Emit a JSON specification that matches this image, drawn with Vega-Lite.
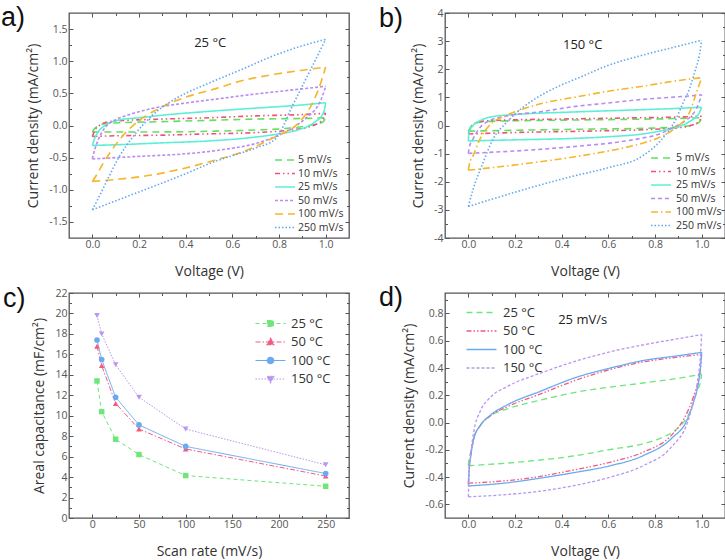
{
"$schema": "https://vega.github.io/schema/vega-lite/v6.json",
"padding": {"left": 0, "top": 2, "right": 0, "bottom": 0},
"config": {
  "font": "Open Sans",
  "view": {"stroke": "#555", "strokeWidth": 1.3},
  "axis": {"grid": false, "domain": false, "ticks": true, "tickSize": -4, "tickColor": "#555", "tickWidth": 1, "labelPadding": 5, "labelFontSize": 10.5, "labelColor": "#555", "labelFont": "Open Sans", "titleFont": "Open Sans", "titleFontSize": 14, "titleFontWeight": "normal", "titleColor": "#333"},
  "axisX": {"titlePadding": 15},
  "axisY": {"titlePadding": 8, "labelPadding": 6},
  "legend": {"padding": 0, "labelFont": "Open Sans", "labelColor": "#333"},
  "title": {"font": "Liberation Sans", "fontSize": 27, "fontWeight": "normal", "anchor": "start", "frame": "group", "baseline": "top", "color": "#111"}
},
"datasets": {
"a": [
{"s":"5 mV/s","b":"u","v":0,"j":-0.1},{"s":"5 mV/s","b":"u","v":0.01,"j":-0.05},{"s":"5 mV/s","b":"u","v":0.03,"j":0},{"s":"5 mV/s","b":"u","v":0.06,"j":0.03},{"s":"5 mV/s","b":"u","v":0.1,"j":0.04},{"s":"5 mV/s","b":"u","v":0.3,"j":0.06},{"s":"5 mV/s","b":"u","v":0.5,"j":0.08},{"s":"5 mV/s","b":"u","v":0.7,"j":0.1},{"s":"5 mV/s","b":"u","v":0.9,"j":0.11},{"s":"5 mV/s","b":"u","v":1,"j":0.12},
{"s":"5 mV/s","b":"l","v":1,"j":0.12},{"s":"5 mV/s","b":"l","v":0.99,"j":0.06},{"s":"5 mV/s","b":"l","v":0.97,"j":0.03},{"s":"5 mV/s","b":"l","v":0.93,"j":0},{"s":"5 mV/s","b":"l","v":0.85,"j":-0.04},{"s":"5 mV/s","b":"l","v":0.7,"j":-0.07},{"s":"5 mV/s","b":"l","v":0.5,"j":-0.09},{"s":"5 mV/s","b":"l","v":0.3,"j":-0.1},{"s":"5 mV/s","b":"l","v":0.1,"j":-0.1},{"s":"5 mV/s","b":"l","v":0,"j":-0.1},
{"s":"10 mV/s","b":"u","v":0,"j":-0.17},{"s":"10 mV/s","b":"u","v":0.01,"j":-0.08},{"s":"10 mV/s","b":"u","v":0.03,"j":0},{"s":"10 mV/s","b":"u","v":0.06,"j":0.05},{"s":"10 mV/s","b":"u","v":0.1,"j":0.07},{"s":"10 mV/s","b":"u","v":0.3,"j":0.1},{"s":"10 mV/s","b":"u","v":0.5,"j":0.12},{"s":"10 mV/s","b":"u","v":0.7,"j":0.15},{"s":"10 mV/s","b":"u","v":0.9,"j":0.17},{"s":"10 mV/s","b":"u","v":1,"j":0.19},
{"s":"10 mV/s","b":"l","v":1,"j":0.19},{"s":"10 mV/s","b":"l","v":0.99,"j":0.1},{"s":"10 mV/s","b":"l","v":0.97,"j":0.04},{"s":"10 mV/s","b":"l","v":0.93,"j":-0.02},{"s":"10 mV/s","b":"l","v":0.85,"j":-0.07},{"s":"10 mV/s","b":"l","v":0.7,"j":-0.11},{"s":"10 mV/s","b":"l","v":0.5,"j":-0.13},{"s":"10 mV/s","b":"l","v":0.3,"j":-0.15},{"s":"10 mV/s","b":"l","v":0.1,"j":-0.16},{"s":"10 mV/s","b":"l","v":0,"j":-0.17},
{"s":"25 mV/s","b":"u","v":0,"j":-0.31},{"s":"25 mV/s","b":"u","v":0.01,"j":-0.2},{"s":"25 mV/s","b":"u","v":0.025,"j":-0.1},{"s":"25 mV/s","b":"u","v":0.05,"j":-0.01},{"s":"25 mV/s","b":"u","v":0.08,"j":0.05},{"s":"25 mV/s","b":"u","v":0.12,"j":0.09},{"s":"25 mV/s","b":"u","v":0.2,"j":0.12},{"s":"25 mV/s","b":"u","v":0.3,"j":0.16},{"s":"25 mV/s","b":"u","v":0.5,"j":0.22},{"s":"25 mV/s","b":"u","v":0.7,"j":0.27},{"s":"25 mV/s","b":"u","v":0.9,"j":0.32},{"s":"25 mV/s","b":"u","v":1,"j":0.355},
{"s":"25 mV/s","b":"l","v":1,"j":0.355},{"s":"25 mV/s","b":"l","v":0.995,"j":0.25},{"s":"25 mV/s","b":"l","v":0.985,"j":0.16},{"s":"25 mV/s","b":"l","v":0.96,"j":0.07},{"s":"25 mV/s","b":"l","v":0.93,"j":0},{"s":"25 mV/s","b":"l","v":0.88,"j":-0.07},{"s":"25 mV/s","b":"l","v":0.8,"j":-0.13},{"s":"25 mV/s","b":"l","v":0.7,"j":-0.18},{"s":"25 mV/s","b":"l","v":0.5,"j":-0.24},{"s":"25 mV/s","b":"l","v":0.3,"j":-0.27},{"s":"25 mV/s","b":"l","v":0.1,"j":-0.3},{"s":"25 mV/s","b":"l","v":0,"j":-0.31},
{"s":"50 mV/s","b":"u","v":0,"j":-0.52},{"s":"50 mV/s","b":"u","v":0.01,"j":-0.38},{"s":"50 mV/s","b":"u","v":0.028,"j":-0.2},{"s":"50 mV/s","b":"u","v":0.057,"j":-0.02},{"s":"50 mV/s","b":"u","v":0.1,"j":0.09},{"s":"50 mV/s","b":"u","v":0.15,"j":0.16},{"s":"50 mV/s","b":"u","v":0.25,"j":0.26},{"s":"50 mV/s","b":"u","v":0.4,"j":0.35},{"s":"50 mV/s","b":"u","v":0.55,"j":0.42},{"s":"50 mV/s","b":"u","v":0.7,"j":0.49},{"s":"50 mV/s","b":"u","v":0.85,"j":0.55},{"s":"50 mV/s","b":"u","v":1,"j":0.61},
{"s":"50 mV/s","b":"l","v":1,"j":0.61},{"s":"50 mV/s","b":"l","v":0.98,"j":0.4},{"s":"50 mV/s","b":"l","v":0.96,"j":0.27},{"s":"50 mV/s","b":"l","v":0.93,"j":0.16},{"s":"50 mV/s","b":"l","v":0.89,"j":0.04},{"s":"50 mV/s","b":"l","v":0.85,"j":-0.06},{"s":"50 mV/s","b":"l","v":0.78,"j":-0.18},{"s":"50 mV/s","b":"l","v":0.7,"j":-0.28},{"s":"50 mV/s","b":"l","v":0.55,"j":-0.38},{"s":"50 mV/s","b":"l","v":0.4,"j":-0.44},{"s":"50 mV/s","b":"l","v":0.2,"j":-0.48},{"s":"50 mV/s","b":"l","v":0,"j":-0.52},
{"s":"100 mV/s","b":"u","v":0,"j":-0.87},{"s":"100 mV/s","b":"u","v":0.02,"j":-0.76},{"s":"100 mV/s","b":"u","v":0.043,"j":-0.61},{"s":"100 mV/s","b":"u","v":0.078,"j":-0.41},{"s":"100 mV/s","b":"u","v":0.128,"j":-0.17},{"s":"100 mV/s","b":"u","v":0.184,"j":0.03},{"s":"100 mV/s","b":"u","v":0.283,"j":0.26},{"s":"100 mV/s","b":"u","v":0.4,"j":0.44},{"s":"100 mV/s","b":"u","v":0.525,"j":0.57},{"s":"100 mV/s","b":"u","v":0.645,"j":0.7},{"s":"100 mV/s","b":"u","v":0.787,"j":0.8},{"s":"100 mV/s","b":"u","v":0.9,"j":0.86},{"s":"100 mV/s","b":"u","v":1,"j":0.91},
{"s":"100 mV/s","b":"l","v":1,"j":0.91},{"s":"100 mV/s","b":"l","v":0.97,"j":0.57},{"s":"100 mV/s","b":"l","v":0.93,"j":0.26},{"s":"100 mV/s","b":"l","v":0.872,"j":0},{"s":"100 mV/s","b":"l","v":0.787,"j":-0.17},{"s":"100 mV/s","b":"l","v":0.645,"j":-0.41},{"s":"100 mV/s","b":"l","v":0.525,"j":-0.54},{"s":"100 mV/s","b":"l","v":0.4,"j":-0.66},{"s":"100 mV/s","b":"l","v":0.255,"j":-0.77},{"s":"100 mV/s","b":"l","v":0.1,"j":-0.84},{"s":"100 mV/s","b":"l","v":0,"j":-0.87},
{"s":"250 mV/s","b":"u","v":0,"j":-1.31},{"s":"250 mV/s","b":"u","v":0.03,"j":-1.1},{"s":"250 mV/s","b":"u","v":0.057,"j":-0.9},{"s":"250 mV/s","b":"u","v":0.113,"j":-0.5},{"s":"250 mV/s","b":"u","v":0.184,"j":-0.13},{"s":"250 mV/s","b":"u","v":0.255,"j":0.15},{"s":"250 mV/s","b":"u","v":0.33,"j":0.36},{"s":"250 mV/s","b":"u","v":0.4,"j":0.5},{"s":"250 mV/s","b":"u","v":0.5,"j":0.66},{"s":"250 mV/s","b":"u","v":0.645,"j":0.88},{"s":"250 mV/s","b":"u","v":0.787,"j":1.1},{"s":"250 mV/s","b":"u","v":0.9,"j":1.24},{"s":"250 mV/s","b":"u","v":1,"j":1.34},
{"s":"250 mV/s","b":"l","v":1,"j":1.34},{"s":"250 mV/s","b":"l","v":0.93,"j":0.83},{"s":"250 mV/s","b":"l","v":0.858,"j":0.31},{"s":"250 mV/s","b":"l","v":0.787,"j":-0.2},{"s":"250 mV/s","b":"l","v":0.7,"j":-0.35},{"s":"250 mV/s","b":"l","v":0.6,"j":-0.47},{"s":"250 mV/s","b":"l","v":0.525,"j":-0.56},{"s":"250 mV/s","b":"l","v":0.4,"j":-0.75},{"s":"250 mV/s","b":"l","v":0.26,"j":-0.95},{"s":"250 mV/s","b":"l","v":0.13,"j":-1.13},{"s":"250 mV/s","b":"l","v":0,"j":-1.31}
],
"b": [
{"s":"5 mV/s","b":"u","v":0,"j":-0.2},{"s":"5 mV/s","b":"u","v":0.01,"j":-0.05},{"s":"5 mV/s","b":"u","v":0.03,"j":0.08},{"s":"5 mV/s","b":"u","v":0.07,"j":0.14},{"s":"5 mV/s","b":"u","v":0.15,"j":0.16},{"s":"5 mV/s","b":"u","v":0.4,"j":0.19},{"s":"5 mV/s","b":"u","v":0.7,"j":0.22},{"s":"5 mV/s","b":"u","v":0.9,"j":0.25},{"s":"5 mV/s","b":"u","v":1,"j":0.28},
{"s":"5 mV/s","b":"l","v":1,"j":0.28},{"s":"5 mV/s","b":"l","v":0.99,"j":0.12},{"s":"5 mV/s","b":"l","v":0.96,"j":0.02},{"s":"5 mV/s","b":"l","v":0.9,"j":-0.05},{"s":"5 mV/s","b":"l","v":0.75,"j":-0.1},{"s":"5 mV/s","b":"l","v":0.5,"j":-0.13},{"s":"5 mV/s","b":"l","v":0.2,"j":-0.17},{"s":"5 mV/s","b":"l","v":0,"j":-0.2},
{"s":"10 mV/s","b":"u","v":0,"j":-0.3},{"s":"10 mV/s","b":"u","v":0.01,"j":-0.1},{"s":"10 mV/s","b":"u","v":0.03,"j":0.08},{"s":"10 mV/s","b":"u","v":0.07,"j":0.16},{"s":"10 mV/s","b":"u","v":0.15,"j":0.19},{"s":"10 mV/s","b":"u","v":0.4,"j":0.23},{"s":"10 mV/s","b":"u","v":0.7,"j":0.27},{"s":"10 mV/s","b":"u","v":0.9,"j":0.3},{"s":"10 mV/s","b":"u","v":1,"j":0.33},
{"s":"10 mV/s","b":"l","v":1,"j":0.33},{"s":"10 mV/s","b":"l","v":0.99,"j":0.15},{"s":"10 mV/s","b":"l","v":0.96,"j":0.02},{"s":"10 mV/s","b":"l","v":0.9,"j":-0.08},{"s":"10 mV/s","b":"l","v":0.75,"j":-0.15},{"s":"10 mV/s","b":"l","v":0.5,"j":-0.2},{"s":"10 mV/s","b":"l","v":0.2,"j":-0.25},{"s":"10 mV/s","b":"l","v":0,"j":-0.3},
{"s":"25 mV/s","b":"u","v":0,"j":-0.55},{"s":"25 mV/s","b":"u","v":0.003,"j":-0.25},{"s":"25 mV/s","b":"u","v":0.02,"j":0},{"s":"25 mV/s","b":"u","v":0.05,"j":0.17},{"s":"25 mV/s","b":"u","v":0.1,"j":0.31},{"s":"25 mV/s","b":"u","v":0.2,"j":0.39},{"s":"25 mV/s","b":"u","v":0.45,"j":0.48},{"s":"25 mV/s","b":"u","v":0.7,"j":0.55},{"s":"25 mV/s","b":"u","v":0.9,"j":0.61},{"s":"25 mV/s","b":"u","v":1,"j":0.65},
{"s":"25 mV/s","b":"l","v":1,"j":0.65},{"s":"25 mV/s","b":"l","v":0.99,"j":0.45},{"s":"25 mV/s","b":"l","v":0.975,"j":0.3},{"s":"25 mV/s","b":"l","v":0.95,"j":0.15},{"s":"25 mV/s","b":"l","v":0.92,"j":0.02},{"s":"25 mV/s","b":"l","v":0.89,"j":-0.07},{"s":"25 mV/s","b":"l","v":0.82,"j":-0.2},{"s":"25 mV/s","b":"l","v":0.747,"j":-0.3},{"s":"25 mV/s","b":"l","v":0.6,"j":-0.4},{"s":"25 mV/s","b":"l","v":0.45,"j":-0.46},{"s":"25 mV/s","b":"l","v":0.2,"j":-0.51},{"s":"25 mV/s","b":"l","v":0,"j":-0.55},
{"s":"50 mV/s","b":"u","v":0,"j":-0.99},{"s":"50 mV/s","b":"u","v":0.005,"j":-0.75},{"s":"50 mV/s","b":"u","v":0.02,"j":-0.48},{"s":"50 mV/s","b":"u","v":0.05,"j":-0.07},{"s":"50 mV/s","b":"u","v":0.09,"j":0.17},{"s":"50 mV/s","b":"u","v":0.16,"j":0.33},{"s":"50 mV/s","b":"u","v":0.31,"j":0.49},{"s":"50 mV/s","b":"u","v":0.46,"j":0.68},{"s":"50 mV/s","b":"u","v":0.6,"j":0.8},{"s":"50 mV/s","b":"u","v":0.75,"j":0.93},{"s":"50 mV/s","b":"u","v":0.9,"j":1.02},{"s":"50 mV/s","b":"u","v":1,"j":1.09},
{"s":"50 mV/s","b":"l","v":1,"j":1.09},{"s":"50 mV/s","b":"l","v":0.977,"j":0.59},{"s":"50 mV/s","b":"l","v":0.95,"j":0.3},{"s":"50 mV/s","b":"l","v":0.92,"j":0.11},{"s":"50 mV/s","b":"l","v":0.87,"j":-0.1},{"s":"50 mV/s","b":"l","v":0.82,"j":-0.3},{"s":"50 mV/s","b":"l","v":0.75,"j":-0.44},{"s":"50 mV/s","b":"l","v":0.675,"j":-0.55},{"s":"50 mV/s","b":"l","v":0.45,"j":-0.75},{"s":"50 mV/s","b":"l","v":0.25,"j":-0.88},{"s":"50 mV/s","b":"l","v":0,"j":-0.99},
{"s":"100 mV/s","b":"u","v":0,"j":-1.59},{"s":"100 mV/s","b":"u","v":0.005,"j":-1.35},{"s":"100 mV/s","b":"u","v":0.02,"j":-1.08},{"s":"100 mV/s","b":"u","v":0.05,"j":-0.48},{"s":"100 mV/s","b":"u","v":0.09,"j":0},{"s":"100 mV/s","b":"u","v":0.16,"j":0.35},{"s":"100 mV/s","b":"u","v":0.235,"j":0.59},{"s":"100 mV/s","b":"u","v":0.35,"j":0.85},{"s":"100 mV/s","b":"u","v":0.46,"j":1.01},{"s":"100 mV/s","b":"u","v":0.6,"j":1.22},{"s":"100 mV/s","b":"u","v":0.75,"j":1.4},{"s":"100 mV/s","b":"u","v":0.9,"j":1.6},{"s":"100 mV/s","b":"u","v":1,"j":1.7},
{"s":"100 mV/s","b":"l","v":1,"j":1.7},{"s":"100 mV/s","b":"l","v":0.975,"j":1.1},{"s":"100 mV/s","b":"l","v":0.948,"j":0.47},{"s":"100 mV/s","b":"l","v":0.89,"j":-0.07},{"s":"100 mV/s","b":"l","v":0.82,"j":-0.42},{"s":"100 mV/s","b":"l","v":0.75,"j":-0.62},{"s":"100 mV/s","b":"l","v":0.675,"j":-0.78},{"s":"100 mV/s","b":"l","v":0.55,"j":-0.98},{"s":"100 mV/s","b":"l","v":0.45,"j":-1.12},{"s":"100 mV/s","b":"l","v":0.25,"j":-1.35},{"s":"100 mV/s","b":"l","v":0,"j":-1.59},
{"s":"250 mV/s","b":"u","v":0,"j":-2.88},{"s":"250 mV/s","b":"u","v":0.02,"j":-2.28},{"s":"250 mV/s","b":"u","v":0.063,"j":-1.32},{"s":"250 mV/s","b":"u","v":0.106,"j":-0.48},{"s":"250 mV/s","b":"u","v":0.164,"j":0.11},{"s":"250 mV/s","b":"u","v":0.235,"j":0.65},{"s":"250 mV/s","b":"u","v":0.31,"j":1.07},{"s":"250 mV/s","b":"u","v":0.38,"j":1.37},{"s":"250 mV/s","b":"u","v":0.48,"j":1.72},{"s":"250 mV/s","b":"u","v":0.6,"j":2.14},{"s":"250 mV/s","b":"u","v":0.747,"j":2.5},{"s":"250 mV/s","b":"u","v":0.89,"j":2.8},{"s":"250 mV/s","b":"u","v":1,"j":3.03},
{"s":"250 mV/s","b":"l","v":1,"j":3.03},{"s":"250 mV/s","b":"l","v":0.99,"j":2.5},{"s":"250 mV/s","b":"l","v":0.97,"j":1.9},{"s":"250 mV/s","b":"l","v":0.948,"j":1.31},{"s":"250 mV/s","b":"l","v":0.92,"j":0.8},{"s":"250 mV/s","b":"l","v":0.89,"j":0.23},{"s":"250 mV/s","b":"l","v":0.83,"j":-0.48},{"s":"250 mV/s","b":"l","v":0.747,"j":-1.08},{"s":"250 mV/s","b":"l","v":0.6,"j":-1.5},{"s":"250 mV/s","b":"l","v":0.45,"j":-1.8},{"s":"250 mV/s","b":"l","v":0.25,"j":-2.25},{"s":"250 mV/s","b":"l","v":0,"j":-2.88}
],
"c": [
{"s":"25 °C","r":5,"c":13.4},{"s":"25 °C","r":10,"c":10.4},{"s":"25 °C","r":25,"c":7.7},{"s":"25 °C","r":50,"c":6.2},{"s":"25 °C","r":100,"c":4.15},{"s":"25 °C","r":250,"c":3.1},
{"s":"50 °C","r":5,"c":16.8},{"s":"50 °C","r":10,"c":14.9},{"s":"50 °C","r":25,"c":11.2},{"s":"50 °C","r":50,"c":8.7},{"s":"50 °C","r":100,"c":6.75},{"s":"50 °C","r":250,"c":4.1},
{"s":"100 °C","r":5,"c":17.4},{"s":"100 °C","r":10,"c":15.5},{"s":"100 °C","r":25,"c":11.8},{"s":"100 °C","r":50,"c":9.1},{"s":"100 °C","r":100,"c":7.0},{"s":"100 °C","r":250,"c":4.35},
{"s":"150 °C","r":5,"c":19.8},{"s":"150 °C","r":10,"c":18.0},{"s":"150 °C","r":25,"c":15.0},{"s":"150 °C","r":50,"c":11.8},{"s":"150 °C","r":100,"c":8.7},{"s":"150 °C","r":250,"c":5.2}
],
"d": [
{"s":"25 °C","b":"u","v":0,"j":-0.316},{"s":"25 °C","b":"u","v":0.003,"j":-0.26},{"s":"25 °C","b":"u","v":0.01,"j":-0.22},{"s":"25 °C","b":"u","v":0.023,"j":-0.12},{"s":"25 °C","b":"u","v":0.052,"j":-0.02},{"s":"25 °C","b":"u","v":0.095,"j":0.05},{"s":"25 °C","b":"u","v":0.167,"j":0.1},{"s":"25 °C","b":"u","v":0.31,"j":0.165},{"s":"25 °C","b":"u","v":0.47,"j":0.225},{"s":"25 °C","b":"u","v":0.75,"j":0.29},{"s":"25 °C","b":"u","v":0.9,"j":0.325},{"s":"25 °C","b":"u","v":1,"j":0.355},
{"s":"25 °C","b":"l","v":1,"j":0.355},{"s":"25 °C","b":"l","v":0.995,"j":0.3},{"s":"25 °C","b":"l","v":0.98,"j":0.23},{"s":"25 °C","b":"l","v":0.95,"j":0.08},{"s":"25 °C","b":"l","v":0.895,"j":-0.044},{"s":"25 °C","b":"l","v":0.83,"j":-0.11},{"s":"25 °C","b":"l","v":0.75,"j":-0.155},{"s":"25 °C","b":"l","v":0.6,"j":-0.2},{"s":"25 °C","b":"l","v":0.47,"j":-0.24},{"s":"25 °C","b":"l","v":0.25,"j":-0.285},{"s":"25 °C","b":"l","v":0,"j":-0.316},
{"s":"50 °C","b":"u","v":0,"j":-0.445},{"s":"50 °C","b":"u","v":0.003,"j":-0.35},{"s":"50 °C","b":"u","v":0.01,"j":-0.25},{"s":"50 °C","b":"u","v":0.023,"j":-0.12},{"s":"50 °C","b":"u","v":0.052,"j":-0.02},{"s":"50 °C","b":"u","v":0.095,"j":0.05},{"s":"50 °C","b":"u","v":0.167,"j":0.116},{"s":"50 °C","b":"u","v":0.31,"j":0.21},{"s":"50 °C","b":"u","v":0.46,"j":0.31},{"s":"50 °C","b":"u","v":0.61,"j":0.39},{"s":"50 °C","b":"u","v":0.75,"j":0.445},{"s":"50 °C","b":"u","v":0.9,"j":0.48},{"s":"50 °C","b":"u","v":1,"j":0.5},
{"s":"50 °C","b":"l","v":1,"j":0.5},{"s":"50 °C","b":"l","v":0.995,"j":0.4},{"s":"50 °C","b":"l","v":0.985,"j":0.3},{"s":"50 °C","b":"l","v":0.967,"j":0.2},{"s":"50 °C","b":"l","v":0.945,"j":0.1},{"s":"50 °C","b":"l","v":0.925,"j":0.03},{"s":"50 °C","b":"l","v":0.87,"j":-0.094},{"s":"50 °C","b":"l","v":0.75,"j":-0.217},{"s":"50 °C","b":"l","v":0.61,"j":-0.29},{"s":"50 °C","b":"l","v":0.46,"j":-0.345},{"s":"50 °C","b":"l","v":0.25,"j":-0.41},{"s":"50 °C","b":"l","v":0.1,"j":-0.435},{"s":"50 °C","b":"l","v":0,"j":-0.445},
{"s":"100 °C","b":"u","v":0,"j":-0.465},{"s":"100 °C","b":"u","v":0.003,"j":-0.36},{"s":"100 °C","b":"u","v":0.01,"j":-0.25},{"s":"100 °C","b":"u","v":0.023,"j":-0.12},{"s":"100 °C","b":"u","v":0.052,"j":-0.02},{"s":"100 °C","b":"u","v":0.095,"j":0.055},{"s":"100 °C","b":"u","v":0.167,"j":0.13},{"s":"100 °C","b":"u","v":0.31,"j":0.23},{"s":"100 °C","b":"u","v":0.46,"j":0.33},{"s":"100 °C","b":"u","v":0.61,"j":0.4},{"s":"100 °C","b":"u","v":0.75,"j":0.455},{"s":"100 °C","b":"u","v":0.9,"j":0.49},{"s":"100 °C","b":"u","v":1,"j":0.515},
{"s":"100 °C","b":"l","v":1,"j":0.515},{"s":"100 °C","b":"l","v":0.995,"j":0.4},{"s":"100 °C","b":"l","v":0.985,"j":0.28},{"s":"100 °C","b":"l","v":0.965,"j":0.15},{"s":"100 °C","b":"l","v":0.94,"j":0.03},{"s":"100 °C","b":"l","v":0.87,"j":-0.118},{"s":"100 °C","b":"l","v":0.75,"j":-0.242},{"s":"100 °C","b":"l","v":0.6,"j":-0.32},{"s":"100 °C","b":"l","v":0.46,"j":-0.365},{"s":"100 °C","b":"l","v":0.3,"j":-0.41},{"s":"100 °C","b":"l","v":0.15,"j":-0.445},{"s":"100 °C","b":"l","v":0,"j":-0.465},
{"s":"150 °C","b":"u","v":0,"j":-0.545},{"s":"150 °C","b":"u","v":0.003,"j":-0.4},{"s":"150 °C","b":"u","v":0.01,"j":-0.24},{"s":"150 °C","b":"u","v":0.023,"j":-0.07},{"s":"150 °C","b":"u","v":0.05,"j":0.08},{"s":"150 °C","b":"u","v":0.09,"j":0.178},{"s":"150 °C","b":"u","v":0.167,"j":0.264},{"s":"150 °C","b":"u","v":0.31,"j":0.363},{"s":"150 °C","b":"u","v":0.46,"j":0.45},{"s":"150 °C","b":"u","v":0.61,"j":0.52},{"s":"150 °C","b":"u","v":0.75,"j":0.57},{"s":"150 °C","b":"u","v":0.9,"j":0.615},{"s":"150 °C","b":"u","v":1,"j":0.645},
{"s":"150 °C","b":"l","v":1,"j":0.645},{"s":"150 °C","b":"l","v":0.995,"j":0.5},{"s":"150 °C","b":"l","v":0.98,"j":0.276},{"s":"150 °C","b":"l","v":0.96,"j":0.12},{"s":"150 °C","b":"l","v":0.94,"j":0.005},{"s":"150 °C","b":"l","v":0.87,"j":-0.18},{"s":"150 °C","b":"l","v":0.75,"j":-0.316},{"s":"150 °C","b":"l","v":0.61,"j":-0.4},{"s":"150 °C","b":"l","v":0.46,"j":-0.46},{"s":"150 °C","b":"l","v":0.3,"j":-0.505},{"s":"150 °C","b":"l","v":0.15,"j":-0.53},{"s":"150 °C","b":"l","v":0,"j":-0.545}
]
},
"columns": 2,
"spacing": {"row": 55, "column": 96},
"bounds": "flush",
"resolve": {"scale": {"color": "independent", "strokeDash": "independent", "shape": "independent"}, "legend": {"color": "independent", "strokeDash": "independent", "shape": "independent"}},
"concat": [
{
 "width": 280, "height": 225,
 "title": {"text": "a)", "dx": -68, "offset": -19},
 "layer": [
  {
   "data": {"name": "a"},
   "mark": {"type": "line", "interpolate": "monotone", "strokeWidth": 1.6},
   "encoding": {
    "x": {"field": "v", "type": "quantitative", "scale": {"domain": [-0.1, 1.1], "nice": false, "zero": false}, "axis": {"orient": "bottom", "values": [0, 0.2, 0.4, 0.6, 0.8, 1], "format": ".1f", "title": "Voltage (V)"}},
    "y": {"field": "j", "type": "quantitative", "scale": {"domain": [-1.75, 1.75], "nice": false, "zero": false}, "axis": {"orient": "left", "values": [-1.5, -1, -0.5, 0, 0.5, 1, 1.5], "format": ".1f", "labelExpr": "replace(datum.label, '\u2212', '-')", "title": "Current density (mA/cm²)"}},
    "color": {"field": "s", "type": "nominal", "scale": {"domain": ["5 mV/s", "10 mV/s", "25 mV/s", "50 mV/s", "100 mV/s", "250 mV/s"], "range": ["#5ee35e", "#f24f7b", "#5cefd6", "#b98cf0", "#f7b52a", "#66a8f0"]}, "legend": {"title": null, "orient": "none", "legendX": 210, "legendY": 141, "labelFontSize": 10.5, "symbolType": "M-2,0H2", "symbolSize": 100, "symbolStrokeWidth": 1.6, "labelOffset": 7, "rowPadding": 1.5}},
    "strokeDash": {"field": "s", "type": "nominal", "scale": {"domain": ["5 mV/s", "10 mV/s", "25 mV/s", "50 mV/s", "100 mV/s", "250 mV/s"], "range": [[7, 5], [5, 3, 1.5, 3, 1.5, 3], [1, 0], [3, 2], [8, 5], [1.5, 2]]}, "legend": {"title": null, "orient": "none", "legendX": 210, "legendY": 141, "labelFontSize": 10.5, "symbolType": "M-2,0H2", "symbolSize": 100, "symbolStrokeWidth": 1.6, "labelOffset": 7, "rowPadding": 1.5}},
    "detail": {"field": "b"}
   }
  },
  {
   "data": {"values": [{"v": 0.505, "j": 1.28, "t": "25 °C"}]},
   "mark": {"type": "text", "fontSize": 13, "color": "#222"},
   "encoding": {
    "x": {"field": "v", "type": "quantitative", "axis": {"orient": "top", "values": [0, 0.2, 0.4, 0.6, 0.8, 1], "labels": false, "title": null}},
    "y": {"field": "j", "type": "quantitative", "axis": {"orient": "right", "values": [-1.5, -1, -0.5, 0, 0.5, 1, 1.5], "labels": false, "title": null}},
    "text": {"field": "t"}
   }
  },
  {
   "data": {"values": [{"v": 0.5, "j": 0}]},
   "mark": {"type": "point", "opacity": 0},
   "encoding": {
    "x": {"field": "v", "type": "quantitative", "axis": {"orient": "bottom", "values": [0.1, 0.3, 0.5, 0.7, 0.9], "labels": false, "title": null, "tickSize": -2.5}},
    "y": {"field": "j", "type": "quantitative", "axis": {"orient": "left", "values": [-1.25, -0.75, -0.25, 0.25, 0.75, 1.25], "labels": false, "title": null, "tickSize": -2.5}}
   }
  },
  {
   "data": {"values": [{"v": 0.5, "j": 0}]},
   "mark": {"type": "point", "opacity": 0},
   "encoding": {
    "x": {"field": "v", "type": "quantitative", "axis": {"orient": "top", "values": [0.1, 0.3, 0.5, 0.7, 0.9], "labels": false, "title": null, "tickSize": -2.5}},
    "y": {"field": "j", "type": "quantitative", "axis": {"orient": "right", "values": [-1.25, -0.75, -0.25, 0.25, 0.75, 1.25], "labels": false, "title": null, "tickSize": -2.5}}
   }
  }
 ],
 "resolve": {"axis": {"x": "independent", "y": "independent"}}
},
{
 "width": 280, "height": 225,
 "title": {"text": "b)", "dx": -66, "offset": -25},
 "layer": [
  {
   "data": {"name": "b"},
   "mark": {"type": "line", "interpolate": "monotone", "strokeWidth": 1.6},
   "encoding": {
    "x": {"field": "v", "type": "quantitative", "scale": {"domain": [-0.1, 1.1], "nice": false, "zero": false}, "axis": {"orient": "bottom", "values": [0, 0.2, 0.4, 0.6, 0.8, 1], "format": ".1f", "title": "Voltage (V)"}},
    "y": {"field": "j", "type": "quantitative", "scale": {"domain": [-4, 4], "nice": false, "zero": false}, "axis": {"orient": "left", "values": [-4, -3, -2, -1, 0, 1, 2, 3, 4], "format": "d", "labelExpr": "replace(datum.label, '\u2212', '-')", "title": "Current density (mA/cm²)"}},
    "color": {"field": "s", "type": "nominal", "scale": {"domain": ["5 mV/s", "10 mV/s", "25 mV/s", "50 mV/s", "100 mV/s", "250 mV/s"], "range": ["#5ee35e", "#f24f7b", "#5cefd6", "#b98cf0", "#f7b52a", "#66a8f0"]}, "legend": {"title": null, "orient": "none", "legendX": 210, "legendY": 139, "labelFontSize": 10.5, "symbolType": "M-2,0H2", "symbolSize": 100, "symbolStrokeWidth": 1.6, "labelOffset": 9, "rowPadding": 1.5}},
    "strokeDash": {"field": "s", "type": "nominal", "scale": {"domain": ["5 mV/s", "10 mV/s", "25 mV/s", "50 mV/s", "100 mV/s", "250 mV/s"], "range": [[7, 5], [5, 3, 1.5, 3, 1.5, 3], [1, 0], [4, 3], [7, 3, 1.5, 3], [1.5, 2]]}, "legend": {"title": null, "orient": "none", "legendX": 210, "legendY": 139, "labelFontSize": 10.5, "symbolType": "M-2,0H2", "symbolSize": 100, "symbolStrokeWidth": 1.6, "labelOffset": 9, "rowPadding": 1.5}},
    "detail": {"field": "b"}
   }
  },
  {
   "data": {"values": [{"v": 0.49, "j": 2.86, "t": "150 °C"}]},
   "mark": {"type": "text", "fontSize": 13, "color": "#222"},
   "encoding": {
    "x": {"field": "v", "type": "quantitative", "axis": {"orient": "top", "values": [0, 0.2, 0.4, 0.6, 0.8, 1], "labels": false, "title": null}},
    "y": {"field": "j", "type": "quantitative", "axis": {"orient": "right", "values": [-4, -3, -2, -1, 0, 1, 2, 3, 4], "labels": false, "title": null}},
    "text": {"field": "t"}
   }
  },
  {
   "data": {"values": [{"v": 0.5, "j": 0}]},
   "mark": {"type": "point", "opacity": 0},
   "encoding": {
    "x": {"field": "v", "type": "quantitative", "axis": {"orient": "bottom", "values": [0.1, 0.3, 0.5, 0.7, 0.9], "labels": false, "title": null, "tickSize": -2.5}},
    "y": {"field": "j", "type": "quantitative", "axis": {"orient": "left", "values": [-3.5, -2.5, -1.5, -0.5, 0.5, 1.5, 2.5, 3.5], "labels": false, "title": null, "tickSize": -2.5}}
   }
  },
  {
   "data": {"values": [{"v": 0.5, "j": 0}]},
   "mark": {"type": "point", "opacity": 0},
   "encoding": {
    "x": {"field": "v", "type": "quantitative", "axis": {"orient": "top", "values": [0.1, 0.3, 0.5, 0.7, 0.9], "labels": false, "title": null, "tickSize": -2.5}},
    "y": {"field": "j", "type": "quantitative", "axis": {"orient": "right", "values": [-3.5, -2.5, -1.5, -0.5, 0.5, 1.5, 2.5, 3.5], "labels": false, "title": null, "tickSize": -2.5}}
   }
  }
 ],
 "resolve": {"axis": {"x": "independent", "y": "independent"}}
},
{
 "width": 280, "height": 225,
 "title": {"text": "c)", "dx": -66, "offset": -25},
 "data": {"name": "c"},
 "layer": [
  {
   "mark": {"type": "line", "strokeWidth": 1},
   "encoding": {
    "x": {"field": "r", "type": "quantitative", "scale": {"domain": [-25, 275], "nice": false, "zero": false}, "axis": {"orient": "bottom", "values": [0, 50, 100, 150, 200, 250], "title": "Scan rate (mV/s)"}},
    "y": {"field": "c", "type": "quantitative", "scale": {"domain": [0, 22], "nice": false}, "axis": {"orient": "left", "values": [0, 2, 4, 6, 8, 10, 12, 14, 16, 18, 20, 22], "title": "Areal capacitance (mF/cm²)"}},
    "color": {"field": "s", "type": "nominal", "scale": {"domain": ["25 °C", "50 °C", "100 °C", "150 °C"], "range": ["#6ee67a", "#f25a80", "#6aaaf0", "#b995f0"]}, "legend": {"title": null, "orient": "none", "legendX": 195, "legendY": 24, "labelFontSize": 13, "symbolType": "M-3,0H3", "symbolSize": 100, "symbolStrokeWidth": 1.1, "labelOffset": 14, "rowPadding": 4.5, "encode": {"symbols": {"update": {"shape": {"signal": "datum.value === '25 °C' ? 'M-3,0H3M-0.6,-0.6H0.6V0.6H-0.6Z' : datum.value === '50 °C' ? 'M-3,0H3M0,-0.75L0.7,0.55H-0.7Z' : datum.value === '100 °C' ? 'M-3,0H3M0.65,0A0.65,0.65,0,1,1,-0.65,0A0.65,0.65,0,1,1,0.65,0Z' : 'M-3,0H3M0,0.75L0.7,-0.55H-0.7Z'"}, "fill": {"signal": "datum.value === '25 °C' ? '#6ee67a' : datum.value === '50 °C' ? '#f25a80' : datum.value === '100 °C' ? '#6aaaf0' : '#b995f0'"}, "fillOpacity": {"value": 1}}}}}},
    "strokeDash": {"field": "s", "type": "nominal", "scale": {"domain": ["25 °C", "50 °C", "100 °C", "150 °C"], "range": [[4, 3], [5, 2, 1.5, 2], [1, 0], [1.5, 1.5]]}, "legend": {"title": null, "orient": "none", "legendX": 195, "legendY": 24, "labelFontSize": 13, "symbolType": "M-3,0H3", "symbolSize": 100, "symbolStrokeWidth": 1.1, "labelOffset": 14, "rowPadding": 4.5}}
   }
  },
  {
   "transform": [{"filter": "datum.s === '25 °C'"}],
   "mark": {"type": "point", "filled": true, "size": 30, "opacity": 1, "shape": "square", "color": "#6ee67a"},
   "encoding": {
    "x": {"field": "r", "type": "quantitative", "axis": {"orient": "top", "values": [0, 50, 100, 150, 200, 250], "labels": false, "title": null}},
    "y": {"field": "c", "type": "quantitative", "axis": {"orient": "right", "values": [0, 2, 4, 6, 8, 10, 12, 14, 16, 18, 20, 22], "labels": false, "title": null}}
   }
  },
  {
   "transform": [{"filter": "datum.s === '50 °C'"}],
   "mark": {"type": "point", "filled": true, "size": 32, "opacity": 1, "shape": "triangle-up", "color": "#f25a80"},
   "encoding": {
    "x": {"field": "r", "type": "quantitative", "axis": {"orient": "bottom", "values": [25, 75, 125, 175, 225], "labels": false, "title": null, "tickSize": -2.5}},
    "y": {"field": "c", "type": "quantitative", "axis": {"orient": "left", "values": [1, 3, 5, 7, 9, 11, 13, 15, 17, 19, 21], "labels": false, "title": null, "tickSize": -2.5}}
   }
  },
  {
   "transform": [{"filter": "datum.s === '100 °C'"}],
   "mark": {"type": "point", "filled": true, "size": 32, "opacity": 1, "shape": "circle", "color": "#6aaaf0"},
   "encoding": {
    "x": {"field": "r", "type": "quantitative", "axis": {"orient": "top", "values": [25, 75, 125, 175, 225], "labels": false, "title": null, "tickSize": -2.5}},
    "y": {"field": "c", "type": "quantitative", "axis": {"orient": "right", "values": [1, 3, 5, 7, 9, 11, 13, 15, 17, 19, 21], "labels": false, "title": null, "tickSize": -2.5}}
   }
  },
  {
   "transform": [{"filter": "datum.s === '150 °C'"}],
   "mark": {"type": "point", "filled": true, "size": 32, "opacity": 1, "shape": "triangle-down", "color": "#b995f0"},
   "encoding": {
    "x": {"field": "r", "type": "quantitative", "axis": null},
    "y": {"field": "c", "type": "quantitative", "axis": null}
   }
  }
 ],
 "resolve": {"axis": {"x": "independent", "y": "independent"}}
},
{
 "width": 280, "height": 225,
 "title": {"text": "d)", "dx": -66, "offset": -19},
 "layer": [
  {
   "data": {"name": "d"},
   "mark": {"type": "line", "interpolate": "monotone", "strokeWidth": 1.3},
   "encoding": {
    "x": {"field": "v", "type": "quantitative", "scale": {"domain": [-0.1, 1.1], "nice": false, "zero": false}, "axis": {"orient": "bottom", "values": [0, 0.2, 0.4, 0.6, 0.8, 1], "format": ".1f", "title": "Voltage (V)"}},
    "y": {"field": "j", "type": "quantitative", "scale": {"domain": [-0.7, 0.95], "nice": false, "zero": false}, "axis": {"orient": "left", "values": [-0.6, -0.4, -0.2, 0, 0.2, 0.4, 0.6, 0.8], "format": ".1f", "labelExpr": "replace(datum.label, '\u2212', '-')", "title": "Current density (mA/cm²)"}},
    "color": {"field": "s", "type": "nominal", "scale": {"domain": ["25 °C", "50 °C", "100 °C", "150 °C"], "range": ["#6ee67a", "#f25a80", "#6aaaf0", "#b995f0"]}, "legend": {"title": null, "orient": "none", "legendX": 30, "legendY": 13, "labelFontSize": 13, "symbolType": "M-3,0H3", "symbolSize": 100, "symbolStrokeWidth": 1.3, "labelOffset": 15, "rowPadding": 4.5}},
    "strokeDash": {"field": "s", "type": "nominal", "scale": {"domain": ["25 °C", "50 °C", "100 °C", "150 °C"], "range": [[6, 4], [5, 2, 1.5, 2, 1.5, 2], [1, 0], [3, 2]]}, "legend": {"title": null, "orient": "none", "legendX": 30, "legendY": 13, "labelFontSize": 13, "symbolType": "M-3,0H3", "symbolSize": 100, "symbolStrokeWidth": 1.3, "labelOffset": 15, "rowPadding": 4.5}},
    "detail": {"field": "b"}
   }
  },
  {
   "data": {"values": [{"v": 0.49, "j": 0.755, "t": "25 mV/s"}]},
   "mark": {"type": "text", "fontSize": 13, "color": "#222"},
   "encoding": {
    "x": {"field": "v", "type": "quantitative", "axis": {"orient": "top", "values": [0, 0.2, 0.4, 0.6, 0.8, 1], "labels": false, "title": null}},
    "y": {"field": "j", "type": "quantitative", "axis": {"orient": "right", "values": [-0.6, -0.4, -0.2, 0, 0.2, 0.4, 0.6, 0.8], "labels": false, "title": null}},
    "text": {"field": "t"}
   }
  },
  {
   "data": {"values": [{"v": 0.5, "j": 0}]},
   "mark": {"type": "point", "opacity": 0},
   "encoding": {
    "x": {"field": "v", "type": "quantitative", "axis": {"orient": "bottom", "values": [0.1, 0.3, 0.5, 0.7, 0.9], "labels": false, "title": null, "tickSize": -2.5}},
    "y": {"field": "j", "type": "quantitative", "axis": {"orient": "left", "values": [-0.5, -0.3, -0.1, 0.1, 0.3, 0.5, 0.7, 0.9], "labels": false, "title": null, "tickSize": -2.5}}
   }
  },
  {
   "data": {"values": [{"v": 0.5, "j": 0}]},
   "mark": {"type": "point", "opacity": 0},
   "encoding": {
    "x": {"field": "v", "type": "quantitative", "axis": {"orient": "top", "values": [0.1, 0.3, 0.5, 0.7, 0.9], "labels": false, "title": null, "tickSize": -2.5}},
    "y": {"field": "j", "type": "quantitative", "axis": {"orient": "right", "values": [-0.5, -0.3, -0.1, 0.1, 0.3, 0.5, 0.7, 0.9], "labels": false, "title": null, "tickSize": -2.5}}
   }
  }
 ],
 "resolve": {"axis": {"x": "independent", "y": "independent"}}
}
]
}
